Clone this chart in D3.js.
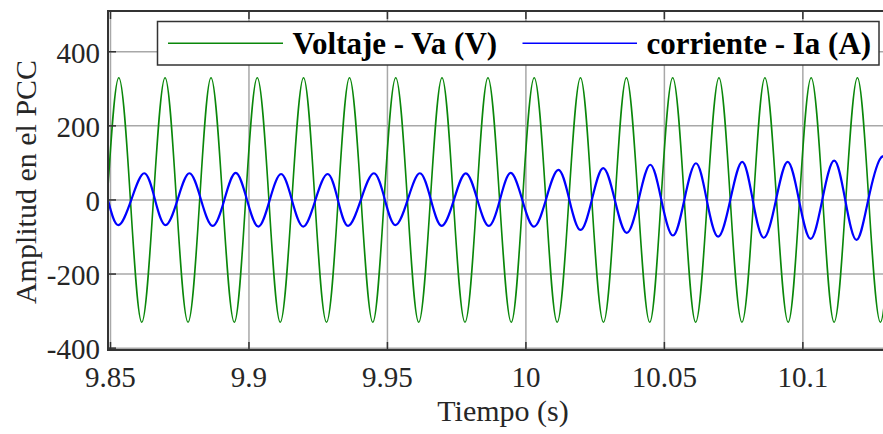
<!DOCTYPE html>
<html>
<head>
<meta charset="utf-8">
<script src="https://cdn.jsdelivr.net/npm/d3@7/dist/d3.min.js"></script>
<style>
  body { margin: 0; background: #fff; }
  svg { display: block; }
</style>
</head>
<body>
<div id="chart"></div>
<script>
// tick values
const xTicks = [9.85, 9.9, 9.95, 10, 10.05, 10.1];
const yTicks = [-400, -200, 0, 200, 400];

// voltage Va: zero crossings / peaks / troughs
const voltTime = [
  9.8488, 9.8530, 9.8572, 9.8613, 9.8655, 9.8697, 9.8738, 9.8780, 9.8822, 9.8863,
  9.8905, 9.8947, 9.8988, 9.9030, 9.9072, 9.9113, 9.9155, 9.9197, 9.9238, 9.9280,
  9.9322, 9.9363, 9.9405, 9.9447, 9.9488, 9.9530, 9.9572, 9.9613, 9.9655, 9.9697,
  9.9738, 9.9780, 9.9822, 9.9863, 9.9905, 9.9947, 9.9988, 10.0030, 10.0072, 10.0113,
  10.0155, 10.0197, 10.0238, 10.0280, 10.0322, 10.0363, 10.0405, 10.0447, 10.0488, 10.0530,
  10.0572, 10.0613, 10.0655, 10.0697, 10.0738, 10.0780, 10.0822, 10.0863, 10.0905, 10.0947,
  10.0988, 10.1030, 10.1072, 10.1113, 10.1155, 10.1197, 10.1238, 10.1280, 10.1322
];
const voltValue = [
  0, 330, 0, -330, 0, 330, 0, -330, 0, 330,
  0, -330, 0, 330, 0, -330, 0, 330, 0, -330,
  0, 330, 0, -330, 0, 330, 0, -330, 0, 330,
  0, -330, 0, 330, 0, -330, 0, 330, 0, -330,
  0, 330, 0, -330, 0, 330, 0, -330, 0, 330,
  0, -330, 0, 330, 0, -330, 0, 330, 0, -330,
  0, 330, 0, -330, 0, 330, 0, -330, 0
];

// current Ia: troughs / zero crossings / peaks
const curTime = [
  9.8491, 9.8528, 9.8575, 9.8622, 9.8661, 9.8699, 9.8742, 9.8785, 9.8827, 9.8869,
  9.8911, 9.8952, 9.8993, 9.9034, 9.9075, 9.9116, 9.9155, 9.9196, 9.9240, 9.9284,
  9.9321, 9.9358, 9.9404, 9.9451, 9.9491, 9.9529, 9.9573, 9.9617, 9.9657, 9.9696,
  9.9740, 9.9783, 9.9825, 9.9866, 9.9906, 9.9945, 9.9987, 10.0029, 10.0072, 10.0117,
  10.0157, 10.0197, 10.0238, 10.0279, 10.0321, 10.0364, 10.0407, 10.0449, 10.0489, 10.0531,
  10.0572, 10.0614, 10.0653, 10.0694, 10.0738, 10.0781, 10.0819, 10.0859, 10.0903, 10.0945,
  10.0986, 10.1028, 10.1070, 10.1113, 10.1153, 10.1194, 10.1236, 10.1278, 10.1310
];
const curValue = [
  0, -68, 0, 72, 0, -68, 0, 72, 0, -70,
  0, 73, 0, -72, 0, 70, 0, -72, 0, 70,
  0, -70, 0, 72, 0, -68, 0, 72, 0, -70,
  0, 72, 0, -70, 0, 73, 0, -72, 0, 81,
  0, -81, 0, 86, 0, -89, 0, 95, 0, -96,
  0, 99, 0, -99, 0, 103, 0, -102, 0, 103,
  0, -105, 0, 106, 0, -108, 0, 110, 104
];

const W = 883, H = 434;
const pLeft = 108, pTop = 11, pBottom = 350, pRight = 900;
const serif = "'Liberation Serif', 'Times New Roman', Times, 'DejaVu Serif', serif";

const svg = d3.select("#chart").append("svg")
  .attr("width", W)
  .attr("height", H)
  .attr("font-family", serif);

const x = d3.scaleLinear().domain([9.8491, 10.1293]).range([pLeft, 884]);
const y = d3.scaleLinear().domain([-405, 510]).range([pBottom, pTop]);

// grid
svg.append("g").selectAll("line")
  .data(xTicks).enter().append("line")
  .attr("x1", d => x(d)).attr("x2", d => x(d))
  .attr("y1", pTop).attr("y2", pBottom)
  .style("stroke", "#a8a8a8").style("stroke-width", 1.5);

svg.append("g").selectAll("line")
  .data(yTicks).enter().append("line")
  .attr("x1", pLeft).attr("x2", pRight)
  .attr("y1", d => y(d)).attr("y2", d => y(d))
  .style("stroke", "#a8a8a8").style("stroke-width", 1.5);

// curves
svg.append("clipPath").attr("id", "clip")
  .append("rect").attr("x", pLeft).attr("y", pTop)
  .attr("width", pRight - pLeft).attr("height", pBottom - pTop);

const line = d3.line()
  .x(d => x(d[0]))
  .y(d => y(d[1]))
  .curve(d3.curveNatural);

const plot = svg.append("g").attr("clip-path", "url(#clip)");

plot.append("path")
  .datum(voltTime.map((t, i) => [t, voltValue[i]]))
  .attr("d", line)
  .style("fill", "none")
  .style("stroke", "#0a870a")
  .style("stroke-width", 1.6);

plot.append("path")
  .datum(curTime.map((t, i) => [t, curValue[i]]))
  .attr("d", line)
  .style("fill", "none")
  .style("stroke", "#0000ff")
  .style("stroke-width", 2.2);

// axes box and ticks
const axisColor = "#333";
svg.append("path")
  .attr("d", `M${pRight},${pTop}H${pLeft}V${pBottom}H${pRight}`)
  .style("fill", "none").style("stroke", axisColor).style("stroke-width", 2);

svg.append("g").selectAll("line")
  .data(xTicks).enter().append("line")
  .attr("x1", d => x(d)).attr("x2", d => x(d))
  .attr("y1", pBottom).attr("y2", pBottom - 8)
  .style("stroke", axisColor).style("stroke-width", 1.5);

svg.append("g").selectAll("line")
  .data(xTicks).enter().append("line")
  .attr("x1", d => x(d)).attr("x2", d => x(d))
  .attr("y1", pTop).attr("y2", pTop + 8)
  .style("stroke", axisColor).style("stroke-width", 1.5);

svg.append("g").selectAll("line")
  .data(yTicks).enter().append("line")
  .attr("x1", pLeft).attr("x2", pLeft + 8)
  .attr("y1", d => y(d)).attr("y2", d => y(d))
  .style("stroke", axisColor).style("stroke-width", 1.5);

// tick labels
svg.append("g").selectAll("text")
  .data(xTicks).enter().append("text")
  .attr("x", d => x(d))
  .attr("y", 387)
  .attr("text-anchor", "middle")
  .attr("font-family", serif)
  .style("font-size", "29px")
  .style("fill", "#262626")
  .text(d => String(d));

svg.append("g").selectAll("text")
  .data(yTicks).enter().append("text")
  .attr("x", 100)
  .attr("y", d => y(d) + 11)
  .attr("text-anchor", "end")
  .attr("font-family", serif)
  .style("font-size", "29px")
  .style("fill", "#262626")
  .text(d => String(d));

// axis titles
svg.append("text")
  .attr("x", 503).attr("y", 421)
  .attr("text-anchor", "middle")
  .attr("font-family", serif)
  .style("font-size", "30px")
  .style("fill", "#262626")
  .text("Tiempo (s)");

svg.append("text")
  .attr("transform", "translate(36,182) rotate(-90)")
  .attr("text-anchor", "middle")
  .attr("font-family", serif)
  .style("font-size", "30px")
  .style("fill", "#262626")
  .text("Amplitud en el PCC");

// legend
const legend = svg.append("g");
legend.append("rect")
  .attr("x", 157.5).attr("y", 21.5)
  .attr("width", 721.5).attr("height", 43.5)
  .style("fill", "#fff").style("stroke", axisColor).style("stroke-width", 1.5);

const legendItems = [
  { name: "Voltaje - Va (V)", color: "#0a870a", x0: 168, x1: 283, tx: 292.5 },
  { name: "corriente - Ia (A)", color: "#0000ff", x0: 522.5, x1: 637, tx: 646.5 }
];

legendItems.forEach(d => {
  legend.append("line")
    .attr("x1", d.x0).attr("x2", d.x1)
    .attr("y1", 43.3).attr("y2", 43.3)
    .style("stroke", d.color).style("stroke-width", 1.6);
  legend.append("text")
    .attr("x", d.tx).attr("y", 54)
    .attr("font-family", serif)
    .style("font-size", "31px")
    .style("font-weight", "bold")
    .style("fill", "#000")
    .text(d.name);
});
</script>
</body>
</html>
